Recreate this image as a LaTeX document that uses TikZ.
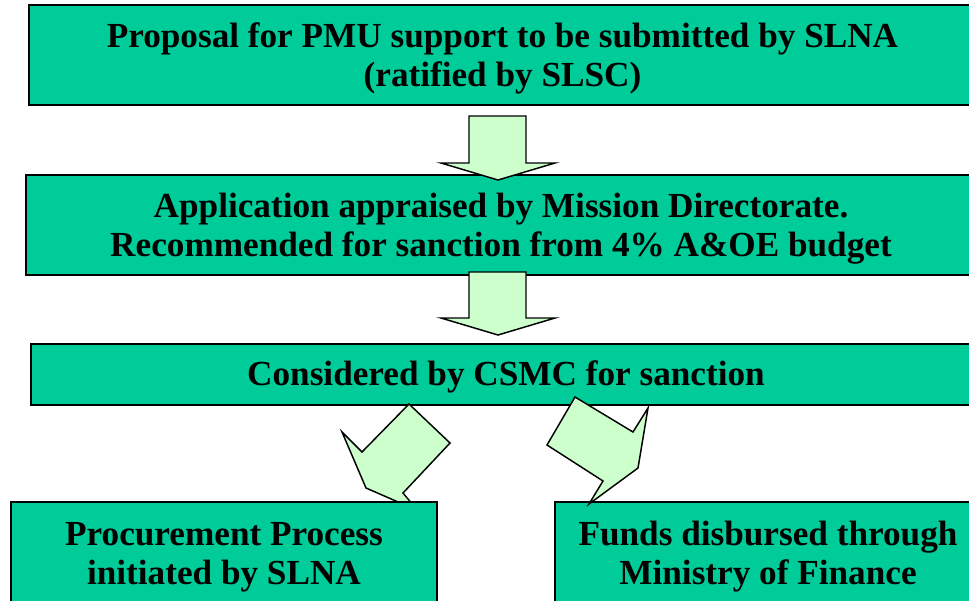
\documentclass[tikz,border=0pt]{standalone}
\usepackage{fontspec}
\setmainfont{Liberation Serif}
\begin{document}
\definecolor{boxgreen}{RGB}{0,204,153}
\definecolor{arrowgreen}{RGB}{204,255,204}
\begin{tikzpicture}[x=0.75pt,y=-0.75pt,
  stagebox/.style={draw=black,line width=1.5pt,fill=boxgreen,rectangle,
    anchor=north west,inner sep=0pt},
  stagetext/.style={inner sep=0pt,align=center,
    font=\fontsize{26.4}{29.3}\selectfont\bfseries},
  blockarrow/.style={draw=black,line width=1.1pt,fill=arrowgreen,line join=miter}]
\useasboundingbox (0,0) rectangle (969,600);
\clip (0,0) rectangle (969,600);

% process stages
\node[stagebox,minimum width=947*0.75pt,minimum height=100*0.75pt] (s1) at (28,4) {};
\node[stagetext] (t1) at ([yshift=-2.5pt]s1.center)
  {Proposal for PMU support to be submitted by SLNA\\(ratified by SLSC)};
\node[stagebox,minimum width=950*0.75pt,minimum height=100*0.75pt] (s2) at (25,174) {};
\node[stagetext] (t2) at ([yshift=-3pt]s2.center)
  {Application appraised by Mission Directorate.\\Recommended for sanction from 4\% A\&OE budget};
\node[stagebox,minimum width=950*0.75pt,minimum height=61*0.75pt] (s3) at (30,343) {};
\node[stagetext] (t3) at ([yshift=-1.5pt]s3.center) {Considered by CSMC for sanction};

% downward block arrows between the stages
\draw[blockarrow] (469,116) -- (526,116) -- (526,163) -- (555,163) -- (498,180)
  -- (441,163) -- (469,163) -- cycle;
\draw[blockarrow] (469,272) -- (526,272) -- (526,318) -- (555,318) -- (498,335)
  -- (441,318) -- (469,318) -- cycle;

% branch towards procurement
\draw[blockarrow] (409,404) -- (450,443) -- (403,493) -- (413,505) -- (405,505)
  -- (366,488) -- (342,432) -- (362,452) -- cycle;

\node[stagebox,minimum width=426*0.75pt,minimum height=119*0.75pt] (s4) at (10,501) {};
\node[stagetext] (t4) at ([yshift=3.5pt]s4.center) {Procurement Process\\initiated by SLNA};
\node[stagebox,minimum width=426*0.75pt,minimum height=119*0.75pt] (s5) at (554,501) {};
\node[stagetext] (t5) at ([yshift=3.5pt]s5.center) {Funds disbursed through\\Ministry of Finance};

% branch towards disbursement
\draw[blockarrow] (575,397) -- (633,432) -- (648,408) -- (638,468) -- (589,504)
  -- (603,481) -- (547,445) -- cycle;
\end{tikzpicture}
\end{document}
